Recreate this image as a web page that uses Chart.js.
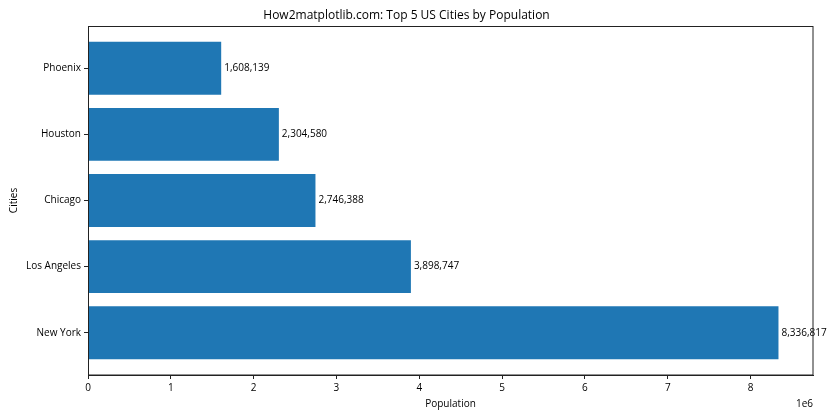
<!DOCTYPE html>
<html>
<head>
<meta charset="utf-8">
<script src="https://cdn.jsdelivr.net/npm/chart.js@4"></script>
<style>
html,body{margin:0;padding:0;background:#fff;}
#wrap{width:840px;height:420px;}
</style>
</head>
<body>
<div id="wrap"><canvas id="c" width="840" height="420"></canvas></div>
<script>
const cities = ["New York", "Los Angeles", "Chicago", "Houston", "Phoenix"];
const populations = [8336817, 3898747, 2746388, 2304580, 1608139];
const xTickValues = [0, 1, 2, 3, 4, 5, 6, 7, 8];
const xTickLabels = ["0", "1", "2", "3", "4", "5", "6", "7", "8"];
const titleText = "How2matplotlib.com: Top 5 US Cities by Population";
const xTitle = "Population";
const yTitle = "Cities";
const offsetText = "1e6";

const FONT = "'Open Sans', 'Noto Sans', sans-serif";
Chart.defaults.font.family = FONT;
Chart.defaults.color = '#000';

const maxVal = Math.max(...populations) * 1.05;

const framePlugin = {
  id: 'frame',
  afterDraw(chart) {
    const {ctx, chartArea: a} = chart;
    ctx.save();
    ctx.strokeStyle = '#222';
    ctx.lineWidth = 1;
    ctx.strokeRect(Math.round(a.left) + 0.5, Math.round(a.top) + 0.5, Math.round(a.right - a.left) - 0.5, Math.round(a.bottom - a.top) - 0.5);
    ctx.font = "10px " + FONT;
    ctx.fillStyle = '#000';
    ctx.textAlign = 'right';
    ctx.textBaseline = 'middle';
    ctx.fillText(offsetText, a.right, 404);
    ctx.restore();
  },
  afterDatasetsDraw(chart) {
    const {ctx} = chart;
    const meta = chart.getDatasetMeta(0);
    ctx.save();
    ctx.font = "10px " + FONT;
    ctx.fillStyle = '#000';
    ctx.textAlign = 'left';
    ctx.textBaseline = 'middle';
    meta.data.forEach((bar, i) => {
      ctx.fillText(populations[i].toLocaleString('en-US'), bar.x + 3, bar.y);
    });
    ctx.restore();
  }
};

new Chart(document.getElementById('c'), {
  type: 'bar',
  data: {
    datasets: [{
      data: populations.map((v, i) => ({x: v, y: i})),
      backgroundColor: '#1f77b4',
      borderWidth: 0,
      categoryPercentage: 1,
      barPercentage: 0.8
    }]
  },
  options: {
    indexAxis: 'y',
    responsive: false,
    animation: false,
    layout: {padding: {left: 0, right: 27, top: 0, bottom: 0}},
    plugins: {
      legend: {display: false},
      tooltip: {enabled: false},
      title: {
        display: true,
        text: titleText,
        color: '#000',
        font: {size: 12, weight: 'normal', family: FONT, lineHeight: 1.2},
        padding: {top: 8, bottom: 3.6}
      }
    },
    scales: {
      x: {
        type: 'linear',
        min: 0,
        max: maxVal,
        offset: false,
        afterBuildTicks: s => { s.ticks = xTickValues.map(v => ({value: v * 1e6})); },
        afterFit: s => { s.height = 45; },
        ticks: {
          font: {size: 10},
          color: '#000',
          padding: 3,
          maxRotation: 0,
          autoSkip: false,
          callback: (v) => { const i = xTickValues.indexOf(Math.round(v / 1e6)); return i >= 0 ? xTickLabels[i] : ''; }
        },
        grid: {display: true, offset: false, drawOnChartArea: false, drawTicks: true, tickLength: 4, color: '#222'},
        border: {display: true, color: '#222'},
        title: {display: true, text: xTitle, font: {size: 10, lineHeight: 1.2}, color: '#000', padding: {top: 0, bottom: 10}}
      },
      y: {
        type: 'linear',
        min: -0.64,
        max: 4.64,
        offset: false,
        afterBuildTicks: s => { s.ticks = cities.map((c, i) => ({value: i})); },
        afterFit: s => { s.width = 88; },
        ticks: {
          font: {size: 10},
          color: '#000',
          padding: 3,
          autoSkip: false,
          callback: (v) => cities[Math.round(v)] || ''
        },
        grid: {display: true, offset: false, drawOnChartArea: false, drawTicks: true, tickLength: 4, color: '#222'},
        border: {display: true, color: '#222'},
        title: {display: true, text: yTitle, font: {size: 10, lineHeight: 1.2}, color: '#000', padding: {top: 8, bottom: 0}}
      }
    }
  },
  plugins: [framePlugin]
});
</script>
</body>
</html>
